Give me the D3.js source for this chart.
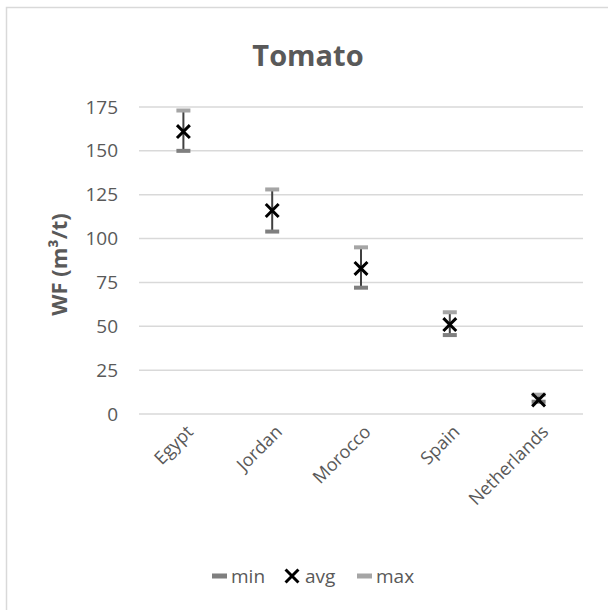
<!DOCTYPE html>
<html>
<head>
<meta charset="utf-8">
<script src="https://cdn.jsdelivr.net/npm/d3@7"></script>
<style>
  body { margin: 0; background: #fff; }
  text { font-family: 'Open Sans', sans-serif; fill: #595959; }
</style>
</head>
<body>
<div id="graf"></div>
<script>
const paises = ['Egypt', 'Jordan', 'Morocco', 'Spain', 'Netherlands']
const minVals = [150, 104, 72, 45, 7]
const avgVals = [161, 116, 83, 51, 8]
const maxVals = [173, 128, 95, 58, 11]
const yTicks = [0, 25, 50, 75, 100, 125, 150, 175]

const anchoTotal = 608
const altoTotal = 610

const svg = d3.select('#graf')
  .append('svg')
  .attr('width', anchoTotal)
  .attr('height', altoTotal)

// marco del grafico
svg.append('rect')
  .attr('x', 6.5)
  .attr('y', 7.5)
  .attr('width', 640)
  .attr('height', 640)
  .attr('fill', 'none')
  .attr('stroke', '#d9d9d9')
  .attr('stroke-width', 1.5)

const margin = { top: 107, left: 139, right: 25, bottom: 196 }
const ancho = anchoTotal - margin.left - margin.right
const alto = altoTotal - margin.top - margin.bottom

const g = svg.append('g')
  .attr('transform', `translate(${margin.left}, ${margin.top})`)

const y = d3.scaleLinear().domain([0, 175]).range([alto, 0])
const x = d3.scaleBand().domain(paises).range([0, ancho])

// grilla
g.append('g')
  .selectAll('line')
  .data(yTicks)
  .join('line')
    .attr('x1', 0)
    .attr('x2', ancho)
    .attr('y1', d => y(d))
    .attr('y2', d => y(d))
    .attr('stroke', '#d9d9d9')
    .attr('stroke-width', 1.5)

const yAxisGroup = g.append('g')
  .call(d3.axisLeft(y).tickValues(yTicks).tickSize(0).tickPadding(21))
yAxisGroup.select('.domain').remove()
yAxisGroup.selectAll('text')
  .attr('font-size', 19)
  .style('font-family', "'Open Sans', sans-serif")
  .attr('fill', '#595959')

const xAxisGroup = g.append('g')
  .attr('transform', `translate(0, ${alto})`)
  .call(d3.axisBottom(x).tickSize(0))
xAxisGroup.select('.domain').remove()
xAxisGroup.selectAll('text')
  .attr('font-size', 18)
  .style('font-family', "'Open Sans', sans-serif")
  .attr('fill', '#595959')
  .attr('text-anchor', 'end')
  .attr('dy', 0)
  .attr('y', 0)
  .attr('transform', 'translate(11, 19) rotate(-45)')

// barras de error
const datos = paises.map((p, i) => ({ pais: p, min: minVals[i], avg: avgVals[i], max: maxVals[i] }))
const cx = d => x(d.pais) + x.bandwidth() / 2

g.selectAll('.err')
  .data(datos)
  .join('line')
    .attr('class', 'err')
    .attr('x1', cx)
    .attr('x2', cx)
    .attr('y1', d => y(d.min))
    .attr('y2', d => y(d.max))
    .attr('stroke', '#404040')
    .attr('stroke-width', 2)

g.selectAll('.capMin')
  .data(datos)
  .join('rect')
    .attr('class', 'capMin')
    .attr('x', d => cx(d) - 7)
    .attr('y', d => y(d.min) - 2)
    .attr('width', 14)
    .attr('height', 4)
    .attr('fill', '#7f7f7f')

g.selectAll('.capMax')
  .data(datos)
  .join('rect')
    .attr('class', 'capMax')
    .attr('x', d => cx(d) - 7)
    .attr('y', d => y(d.max) - 2)
    .attr('width', 14)
    .attr('height', 4)
    .attr('fill', '#a5a5a5')

const cruz = d3.symbol().type(d3.symbolX).size(110)
g.selectAll('.avg')
  .data(datos)
  .join('path')
    .attr('class', 'avg')
    .attr('d', cruz)
    .attr('transform', d => `translate(${cx(d)}, ${y(d.avg)})`)
    .attr('fill', 'none')
    .attr('stroke', '#000')
    .attr('stroke-width', 3)

// titulo
svg.append('text')
  .attr('x', 308)
  .attr('y', 66)
  .attr('text-anchor', 'middle')
  .attr('font-size', 29)
  .attr('font-weight', 'bold')
  .text('Tomato')

// etiqueta eje y
svg.append('text')
  .attr('transform', `translate(67, ${margin.top + alto / 2 + 4}) rotate(-90)`)
  .attr('text-anchor', 'middle')
  .attr('font-size', 22)
  .attr('font-weight', 'bold')
  .text('WF (m³/t)')

// leyenda
const leyenda = svg.append('g').attr('transform', 'translate(0, 576)')
leyenda.append('rect').attr('x', 212).attr('y', -2.5).attr('width', 15).attr('height', 5).attr('fill', '#7f7f7f')
leyenda.append('text').attr('x', 231).attr('y', 7).attr('font-size', 19).text('min')
leyenda.append('path').attr('d', cruz).attr('transform', 'translate(292, 0)')
  .attr('fill', 'none').attr('stroke', '#000').attr('stroke-width', 3)
leyenda.append('text').attr('x', 305).attr('y', 7).attr('font-size', 19).text('avg')
leyenda.append('rect').attr('x', 357).attr('y', -2.5).attr('width', 15).attr('height', 5).attr('fill', '#a5a5a5')
leyenda.append('text').attr('x', 376).attr('y', 7).attr('font-size', 19).text('max')
</script>
</body>
</html>
